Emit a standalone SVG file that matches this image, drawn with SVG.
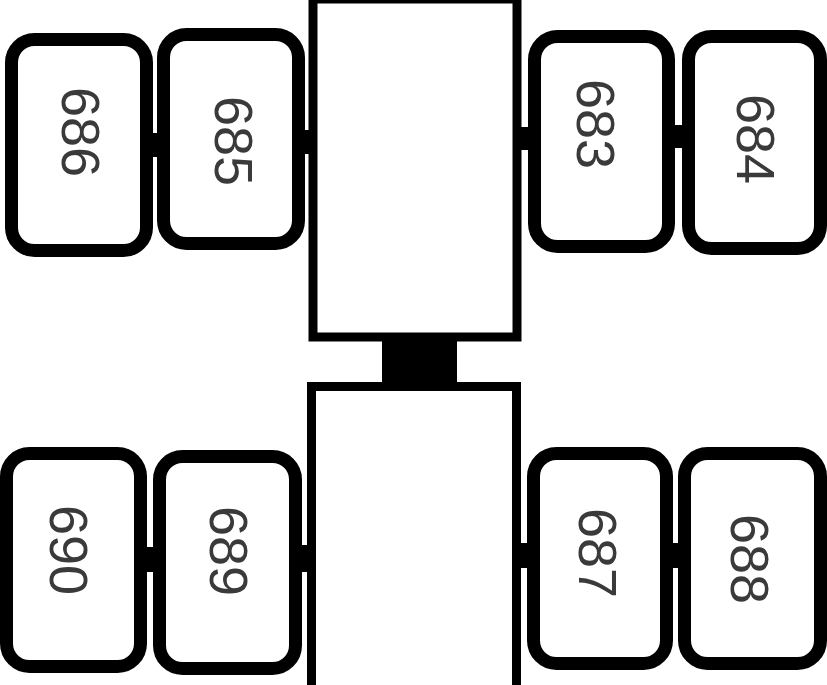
<svg xmlns="http://www.w3.org/2000/svg" width="827" height="685" viewBox="0 0 827 685">
<style>
.box{fill:#fff;stroke:#000;stroke-width:13}
.core{fill:#fff;stroke:#000;stroke-width:9}
.link{fill:#000}
.lbl{font-family:"Liberation Sans","DejaVu Sans",sans-serif;font-size:54px;fill:#3a3a3a;text-anchor:middle;dominant-baseline:central}
</style>
<rect width="827" height="685" fill="#fff"/>
<g id="connectors">
<rect class="link" x="146" y="133" width="18" height="24"/>
<rect class="link" x="299" y="130" width="18" height="24"/>
<rect class="link" x="517" y="127" width="23" height="23"/>
<rect class="link" x="669" y="125" width="26" height="23"/>
<rect class="link" x="141" y="547" width="18" height="25"/>
<rect class="link" x="293" y="545" width="18" height="27"/>
<rect class="link" x="516" y="543" width="21" height="25"/>
<rect class="link" x="666" y="543" width="18" height="25"/>
<rect class="link" x="382" y="338" width="75" height="47"/>
</g>
<g id="core-top"><rect class="core" x="313" y="-1" width="204" height="338"/></g>
<g id="core-bottom"><rect class="core" x="311.5" y="386.5" width="205" height="310"/></g>
<g id="n686"><rect class="box" x="11.5" y="39.5" width="135" height="211" rx="23"/><text class="lbl" transform="translate(81,132) rotate(90)">686</text></g>
<g id="n685"><rect class="box" x="163.5" y="34.5" width="135" height="209" rx="23"/><text class="lbl" transform="translate(234,141) rotate(90)">685</text></g>
<g id="n683"><rect class="box" x="534.5" y="36.5" width="134" height="210" rx="23"/><text class="lbl" transform="translate(596,124) rotate(90)">683</text></g>
<g id="n684"><rect class="box" x="688.5" y="36.5" width="132" height="212" rx="23"/><text class="lbl" transform="translate(756,139) rotate(90)">684</text></g>
<g id="n690"><rect class="box" x="6.5" y="453.5" width="134" height="213" rx="23"/><text class="lbl" transform="translate(69,550) rotate(90)">690</text></g>
<g id="n689"><rect class="box" x="159.5" y="456.5" width="136" height="212" rx="23"/><text class="lbl" transform="translate(229,551) rotate(90)">689</text></g>
<g id="n687"><rect class="box" x="533.5" y="453.5" width="133" height="210" rx="23"/><text class="lbl" transform="translate(598,553) rotate(90)">687</text></g>
<g id="n688"><rect class="box" x="684.5" y="453.5" width="136" height="210" rx="23"/><text class="lbl" transform="translate(750,559) rotate(90)">688</text></g>
</svg>
